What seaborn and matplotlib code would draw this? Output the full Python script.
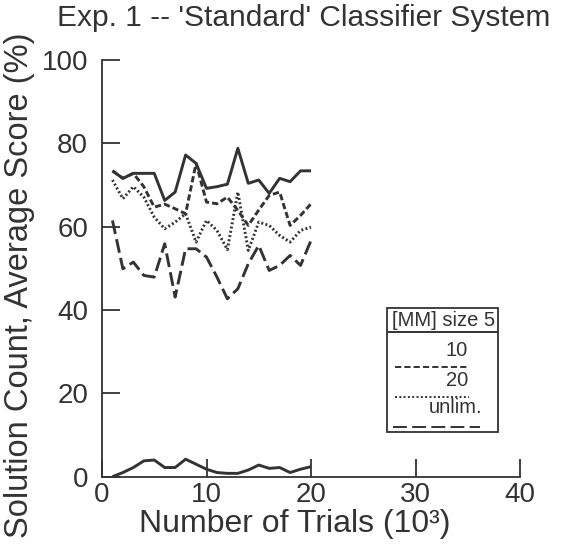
import numpy as np
import pandas as pd
import matplotlib
matplotlib.use("Agg")
import matplotlib.pyplot as plt
import seaborn as sns
from matplotlib.lines import Line2D
from matplotlib.patches import Rectangle

trials = list(range(1, 21))
top_solid = [73.4, 71.6, 72.8, 72.8, 72.8, 66.3, 68.3, 77.2, 75.2, 69.2,
             69.6, 70.2, 78.8, 70.4, 71.2, 68.0, 71.6, 70.8, 73.4, 73.4]
size10 = [73.4, 71.6, 72.8, 69.6, 64.7, 65.4, 64.3, 63.1, 75.2, 65.9,
          65.5, 67.1, 63.9, 60.3, 64.0, 67.5, 68.3, 60.3, 62.7, 65.5]
size20 = [71.2, 66.7, 69.6, 67.1, 62.3, 59.5, 61.1, 63.1, 56.3, 61.5,
          59.1, 54.5, 68.3, 54.3, 61.1, 60.3, 57.9, 56.3, 59.1, 59.9]
unlim = [61.5, 49.9, 51.5, 48.3, 47.9, 55.9, 43.1, 54.7, 54.7, 52.7,
         47.9, 42.7, 45.1, 51.1, 55.5, 49.5, 50.7, 53.1, 50.7, 56.7]
size5 = [0.0, 1.0, 2.2, 3.8, 4.0, 2.2, 2.2, 4.2, 3.0, 1.8,
         1.0, 0.8, 0.8, 1.6, 2.8, 2.0, 2.2, 1.0, 1.8, 2.4]

legend_labels = ["[MM] size 5", "10", "20", "unlim."]
xticks = [0, 10, 20, 30, 40]
yticks = [0, 20, 40, 60, 80, 100]

ink = "#333333"
sns.set_style("ticks")
plt.rcParams["font.family"] = ["Liberation Sans", "DejaVu Sans"]
plt.rcParams["lines.scale_dashes"] = False

fig = plt.figure(figsize=(5.67, 5.45), dpi=100)
ax = fig.add_axes([102 / 567, 1 - 476.7 / 545, 418 / 567, 416.7 / 545])

styles = {
    "solid": (0, ()),
    "dash": (0, (4.5, 2.2)),
    "dot": (0, (1.4, 1.7)),
    "long": (0, (10, 3.8)),
}
series = [(top_solid, "solid"), (size10, "dash"), (size20, "dot"),
          (unlim, "long"), (size5, "solid")]
for vals, st in series:
    sns.lineplot(x=trials, y=vals, ax=ax, color=ink, lw=2.1,
                 linestyle=styles[st])

ax.set_xlim(0, 40)
ax.set_ylim(0, 100)
ax.set_xticks(xticks)
ax.set_yticks(yticks)
ax.tick_params(direction="in", length=13, width=1.3, colors=ink,
               labelsize=20, labelcolor=ink)
ax.tick_params(axis="y", pad=10)
ax.tick_params(axis="x", pad=4)
sns.despine(ax=ax)
for s in ["left", "bottom"]:
    ax.spines[s].set_linewidth(1.3)
    ax.spines[s].set_color(ink)

ax.set_xlabel("Number of Trials (10³)", fontsize=23, color=ink)
ax.set_ylabel("Solution Count, Average Score (%)", fontsize=23.5, color=ink)
ax.xaxis.set_label_coords(0.462, -0.078)
ax.yaxis.set_label_coords(-0.16, 0.46)

fig.text(304 / 567, 1 - 18 / 545, "Exp. 1 -- 'Standard' Classifier System",
         ha="center", va="center", fontsize=21.5, color=ink)

# legend box, labels above their line samples
ax.add_patch(Rectangle((0.682, 0.107), 0.265, 0.298, transform=ax.transAxes,
                       fill=False, lw=1.3, ec=ink))
leg = [
    (legend_labels[0], 0.816, 0.376, "center", "solid", 0.682, 0.947, 0.347),
    (legend_labels[1], 0.876, 0.304, "right", "dash", 0.701, 0.876, 0.263),
    (legend_labels[2], 0.876, 0.230, "right", "dot", 0.701, 0.878, 0.191),
    (legend_labels[3], 0.909, 0.165, "right", "long", 0.696, 0.904, 0.119),
]
for lab, tx, ty, ha, st, x0, x1, ly in leg:
    ax.text(tx, ty, lab, transform=ax.transAxes, ha=ha, va="center",
            fontsize=14.5, color=ink)
    ax.add_line(Line2D([x0, x1], [ly, ly], transform=ax.transAxes,
                       color=ink, lw=1.4, linestyle=styles[st]))

fig.savefig("out.png", dpi=100)
